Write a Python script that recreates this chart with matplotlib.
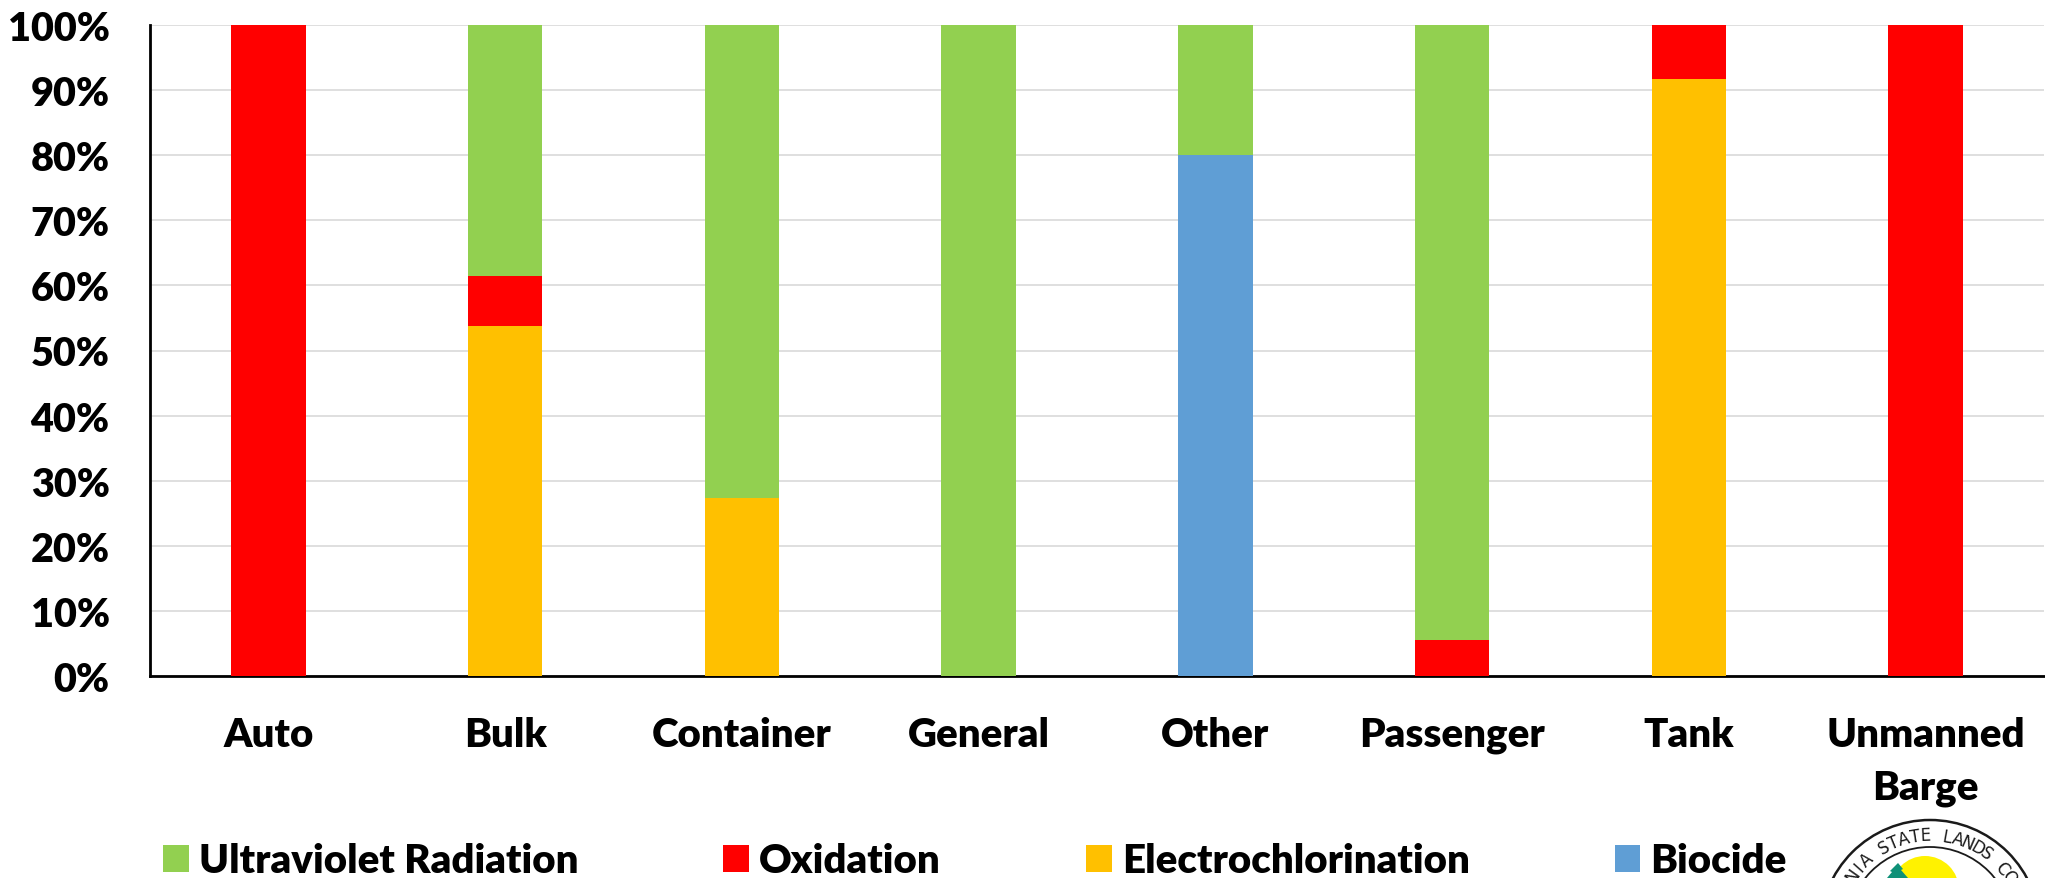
import numpy as np
import matplotlib.pyplot as plt
from matplotlib.patches import Circle, Polygon

plt.rcParams['font.family'] = ['Lato', 'DejaVu Sans']

categories = ['Auto', 'Bulk', 'Container', 'General', 'Other', 'Passenger', 'Tank', 'Unmanned\nBarge']
biocide = [0, 0, 0, 0, 80, 0, 0, 0]
electrochlorination = [0, 53.8, 27.3, 0, 0, 0, 91.7, 0]
oxidation = [100, 7.7, 0, 0, 0, 5.6, 8.3, 100]
ultraviolet = [0, 38.5, 72.7, 100, 20, 94.4, 0, 0]
y_ticks = [0, 10, 20, 30, 40, 50, 60, 70, 80, 90, 100]

W, H = 2045, 879
fig = plt.figure(figsize=(W / 100, H / 100), dpi=100)
ax = fig.add_axes([150 / W, 1 - 677 / H, (2044 - 150) / W, (677 - 26) / H])

x = np.arange(len(categories))
bar_width = 0.314
bottom = np.zeros(len(categories))
series = [
    ('Biocide', biocide, '#5f9ed5'),
    ('Electrochlorination', electrochlorination, '#ffc000'),
    ('Oxidation', oxidation, '#ff0000'),
    ('Ultraviolet Radiation', ultraviolet, '#92d050'),
]
bars = {}
for name, values, color in series:
    bars[name] = ax.bar(x, values, bar_width, bottom=bottom, color=color, zorder=3, label=name)
    bottom += np.array(values)

ax.set_xlim(-0.5, 7.5)
ax.set_ylim(0, 100)
ax.set_yticks(y_ticks)
ax.set_yticklabels([f'{t}%' for t in y_ticks], fontsize=28.5, fontweight='heavy')
ax.set_xticks(x)
ax.set_xticklabels(categories, fontsize=29, fontweight='heavy', linespacing=1.5)
ax.tick_params(axis='both', length=0)
ax.tick_params(axis='y', pad=29)
ax.tick_params(axis='x', pad=29)
ax.grid(axis='y', color='#d9d9d9', linewidth=1.2, zorder=0)
ax.set_axisbelow(True)
ax.spines['top'].set_visible(False)
ax.spines['right'].set_visible(False)
ax.spines['left'].set_linewidth(2)
ax.spines['bottom'].set_linewidth(2)

# Legend runs in the reverse of the stacking order
labels = ['Ultraviolet Radiation', 'Oxidation', 'Electrochlorination', 'Biocide']
handles = [bars[n] for n in labels]
fig.legend(handles, labels, ncol=4, frameon=False, loc='center left',
           bbox_to_anchor=(163 / W, 1 - 862 / H), borderpad=0, borderaxespad=0,
           prop={'size': 29, 'weight': 'heavy'}, columnspacing=3.6,
           handlelength=0.64, handleheight=0.64, handletextpad=0.25)

# Seal in the bottom right corner, only the upper part fits on the figure
seal = fig.add_axes([0, 0, 1, 1], zorder=5)
seal.set_xlim(0, W)
seal.set_ylim(H, 0)
seal.axis('off')
cx, cy = 1930, 931
seal.add_patch(Circle((cx, cy), 110, fill=False, edgecolor='#1a1a1a', linewidth=1.8))
seal.add_patch(Circle((cx, cy), 83, fill=False, edgecolor='#1a1a1a', linewidth=1.3))
seal.add_patch(Circle((1925, 891), 34, facecolor='#fff200', edgecolor='none'))
seal.add_patch(Polygon([(1898, 864), (1903, 870), (1901, 871), (1908, 879), (1887, 879),
                        (1892, 873), (1890, 872)], closed=True, facecolor='#0f9178', edgecolor='none'))

seal_text = 'NIA STATE LANDS CO'
for i, ch in enumerate(seal_text):
    angle = -28.7 + (i - 4) * 6.5
    r = 95
    tx = cx + r * np.sin(np.radians(angle))
    ty = cy - r * np.cos(np.radians(angle))
    seal.text(tx, ty, ch, fontsize=12, family='DejaVu Sans', color='#1a1a1a',
              rotation=-angle, rotation_mode='anchor', ha='center', va='center')

fig.savefig('out.png', dpi=100)
